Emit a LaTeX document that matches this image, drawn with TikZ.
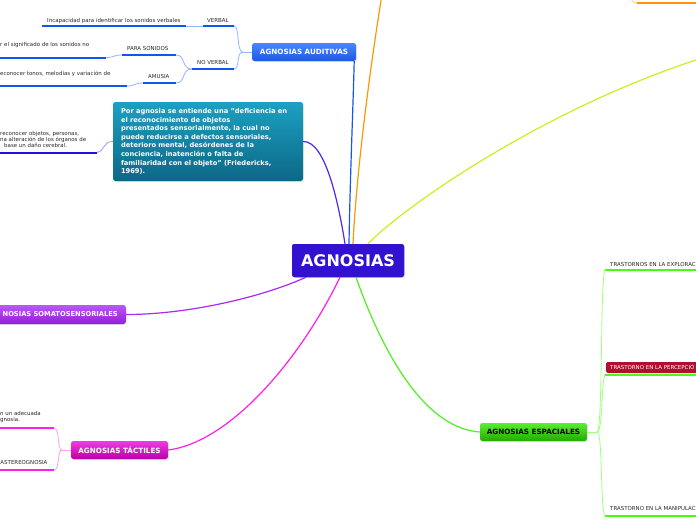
\documentclass[tikz,border=0pt]{standalone}
\usepackage{fontspec}
\setmainfont{DejaVu Sans}
\usetikzlibrary{shadows}
\definecolor{cent}{RGB}{50,18,208}
\definecolor{audT}{RGB}{74,136,248}
\definecolor{audB}{RGB}{28,88,232}
\definecolor{audL}{RGB}{18,86,240}
\definecolor{audThin}{RGB}{150,180,255}
\definecolor{defT}{RGB}{28,160,194}
\definecolor{defB}{RGB}{12,104,134}
\definecolor{defL}{RGB}{80,40,235}
\definecolor{defU}{RGB}{34,17,221}
\definecolor{defThin}{RGB}{160,150,255}
\definecolor{somT}{RGB}{184,88,246}
\definecolor{somB}{RGB}{148,30,216}
\definecolor{somL}{RGB}{170,40,240}
\definecolor{tacT}{RGB}{240,60,222}
\definecolor{tacB}{RGB}{186,0,170}
\definecolor{tacL}{RGB}{255,30,235}
\definecolor{tacThin}{RGB}{255,160,240}
\definecolor{espT}{RGB}{90,238,50}
\definecolor{espB}{RGB}{34,170,0}
\definecolor{espL}{RGB}{80,240,30}
\definecolor{espU}{RGB}{70,255,20}
\definecolor{espThin}{RGB}{160,255,130}
\definecolor{ylw}{RGB}{204,240,30}
\definecolor{org}{RGB}{255,152,0}
\definecolor{orgThin}{RGB}{255,205,140}
\definecolor{redbox}{RGB}{178,14,48}
\definecolor{txt}{RGB}{40,40,40}
\tikzset{
  topic/.style={rounded corners=2.5pt, inner sep=0pt, minimum height=18pt, text=white,
    font=\fontsize{7.2}{8.6}\selectfont\bfseries,
    drop shadow={shadow xshift=0.7pt,shadow yshift=-0.9pt,opacity=0.22}},
  small/.style={font=\fontsize{5.45}{6.3}\selectfont, text=txt, inner sep=0pt, anchor=base west, align=left},
  thickU/.style={line width=2pt},
  thin/.style={line width=0.8pt},
  conn/.style={line width=1.2pt}
}
\begin{document}
\begin{tikzpicture}[x=1pt,y=-1pt]
\useasboundingbox (0,0) rectangle (696,520);
\clip (0,0) rectangle (696,520);
\fill[white] (0,0) rectangle (696,520);

% ---------- main nodes ----------
\node[topic, fill=cent, minimum width=112pt, minimum height=33pt,
      font=\fontsize{16}{18}\selectfont\bfseries] (c) at (348,260.5) {AGNOSIAS};
\node[topic, top color=audT, bottom color=audB, minimum width=104pt] (aud) at (304,52) {AGNOSIAS AUDITIVAS};
\node[rounded corners=2.5pt, top color=defT, bottom color=defB, minimum height=79pt,
      inner xsep=8pt, inner ysep=0pt, text width=174pt, text=white, align=left,
      font=\fontsize{6.7}{8.6}\selectfont\bfseries,
      drop shadow={shadow xshift=0.7pt,shadow yshift=-0.9pt,opacity=0.22}] (def) at (208,141.5)
  {Por agnosia se entiende una "deficiencia en\\el reconocimiento de objetos\\presentados sensorialmente, la cual no\\puede reducirse a defectos sensoriales,\\deterioro mental, desórdenes de la\\conciencia, inatención o falta de\\familiaridad con el objeto" (Friedericks,\\1969).};
\node[topic, top color=somT, bottom color=somB, minimum height=19pt, inner xsep=8pt, anchor=east,
      font=\fontsize{6.7}{8}\selectfont\bfseries] (som) at (126,314.5) {NOSIAS SOMATOSENSORIALES};
\node[topic, top color=tacT, bottom color=tacB, minimum width=97pt] (tac) at (119.5,450) {AGNOSIAS TÁCTILES};
\node[topic, top color=espT, bottom color=espB, minimum width=107pt, text=black] (esp) at (533.5,432) {AGNOSIAS ESPACIALES};

% ---------- connectors from the centre ----------
\coordinate (orgEnd) at (383,-12);
\coordinate (ylwEnd) at (702,58);
\draw[conn, org] ([xshift=5pt]c.north) .. controls (356,180) and (368,80) .. (orgEnd);
\draw[conn, audL] ([xshift=1pt]c.north) .. controls (350,180) and (353,110) .. ([xshift=-2pt]aud.south east);
\draw[conn, defL] ([xshift=-3pt]c.north) .. controls (338,200) and (325,141) .. (def.east);
\draw[conn, ylw] ([xshift=20pt]c.north) .. controls (400,210) and (540,110) .. (ylwEnd);
\draw[conn, somL] ([xshift=-42pt]c.south) .. controls (265,296) and (190,314.5) .. (som.east);
\draw[conn, tacL] ([xshift=-8pt]c.south) .. controls (300,360) and (230,442) .. (tac.east);
\draw[conn, espL] ([xshift=8pt]c.south) .. controls (378,340) and (420,428) .. (esp.west);
\node[topic, fill=cent, minimum width=112pt, minimum height=33pt, drop shadow={opacity=0},
      font=\fontsize{16}{18}\selectfont\bfseries] at (348,260.5) {AGNOSIAS};

% orange branch at top right
\coordinate (orgA) at (631,-1);
\coordinate (orgB) at (637,3);
\coordinate (orgC) at (700,3);
\draw[thin, orgThin] (orgA) .. controls (633,2) and (634,3) .. (orgB);
\draw[thickU, org] (orgB) -- (orgC);

% ---------- auditivas ----------
\coordinate (audJ) at (243,52);
\coordinate (verbL) at (203,26);   \coordinate (verbR) at (234,26);
\coordinate (incL) at (42,26);     \coordinate (incR) at (186,26);
\coordinate (nvL) at (192,69);     \coordinate (nvR) at (234,69);
\coordinate (psL) at (122,55);     \coordinate (psR) at (176,55);
\coordinate (amL) at (143,83);     \coordinate (amR) at (176,83);
\coordinate (psCL) at (-5,57.5);   \coordinate (psCR) at (106,57.5);
\coordinate (amCL) at (-5,86);     \coordinate (amCR) at (127,86);

\draw[thin, audThin] (aud.west) -- (audJ);
\draw[thin, audThin] (audJ) .. controls (236,52) and (240,26) .. (verbR);
\draw[thin, audThin] (audJ) .. controls (236,52) and (240,69) .. (nvR);
\draw[thin, audThin] (verbL) -- (incR);
\draw[thin, audThin] (nvL) .. controls (181,69) and (186,55) .. (psR);
\draw[thin, audThin] (nvL) .. controls (181,69) and (186,83) .. (amR);
\draw[thin, audThin] (psL) .. controls (113,55) and (114,57.5) .. (psCR);
\draw[thin, audThin] (amL) .. controls (134,83) and (135,86) .. (amCR);

\draw[thickU, audL] (verbL) -- (verbR);
\draw[thickU, audL] (incL) -- (incR);
\draw[thickU, audL] (nvL) -- (nvR);
\draw[thickU, audL] (psL) -- (psR);
\draw[thickU, audL] (amL) -- (amR);
\draw[thickU, audL] (psCL) -- (psCR);
\draw[thickU, audL] (amCL) -- (amCR);

\node[small] (tverb) at (207,22) {VERBAL};
\node[small] (tinc) at (47,22) {Incapacidad para identificar los sonidos verbales};
\node[small] (tnv) at (197,64) {NO VERBAL};
\node[small] (tps) at (127,50) {PARA SONIDOS};
\node[small] (tam) at (148,78) {AMUSIA};
\node[small] (tpsc) at (0,46.5) {r el significado de los sonidos no};
\node[small] (tamc) at (0,75) {econocer tonos, melodías y variación de};

% ---------- definition left child ----------
\coordinate (dcL) at (-5,152.5);
\coordinate (dcR) at (97,152.5);
\draw[thin, defThin] (def.west) .. controls (103,141) and (104,152.5) .. (dcR);
\draw[thickU, defU] (dcL) -- (dcR);
\node[small] (d1) at (0,135.5) {reconocer objetos, personas,};
\node[small] (d2) at (0,141.5) {na alteración de los órganos de};
\node[small] (d3) at (4,147.5) {base un daño cerebral.};

% ---------- táctiles ----------
\coordinate (tacJ) at (62,450);
\coordinate (tuL) at (-5,428);  \coordinate (tuR) at (54,428);
\coordinate (tdL) at (-5,470);  \coordinate (tdR) at (54,470);
\draw[thin, tacThin] (tac.west) -- (tacJ);
\draw[thin, tacThin] (tacJ) .. controls (57,450) and (60,428) .. (tuR);
\draw[thin, tacThin] (tacJ) .. controls (57,450) and (60,470) .. (tdR);
\draw[thickU, tacL] (tuL) -- (tuR);
\draw[thickU, tacL] (tdL) -- (tdR);
\node[small] (tt1) at (0,415.5) {n un adecuada};
\node[small] (tt2) at (0,421.8) {gnosia.};
\node[small] (tt3) at (0.3,464.5) {ASTEREOGNOSIA};

% ---------- espaciales ----------
\coordinate (espJ) at (597,432);
\coordinate (e1L) at (605,270); \coordinate (e1R) at (700,270);
\coordinate (e2L) at (605,375); \coordinate (e2R) at (700,375);
\coordinate (e3L) at (605,516); \coordinate (e3R) at (700,516);
\draw[thin, espThin] (esp.east) -- (espJ);
\draw[thin, espThin] (espJ) .. controls (603,432) and (600,278) .. (e1L);
\draw[thin, espThin] (espJ) .. controls (603,432) and (601,382) .. (e2L);
\draw[thin, espThin] (espJ) .. controls (603,432) and (600,508) .. (e3L);
\node[rounded corners=1.5pt, fill=redbox, text=white, anchor=west, minimum height=11pt,
      inner xsep=4pt, inner ysep=0pt, text width=92pt, align=left,
      font=\fontsize{5.45}{6.3}\selectfont] (red) at (606,367.5) {TRASTORNO EN LA PERCEPCIÓ};
\draw[thickU, espU] (e1L) -- (e1R);
\draw[thickU, espU] (e2L) -- (e2R);
\draw[thickU, espU] (e3L) -- (e3R);
\node[small] (s1) at (610,266) {TRASTORNOS EN LA EXPLORAC};
\node[small] (s3) at (610,510.7) {TRASTORNO EN LA MANIPULAC};
\end{tikzpicture}
\end{document}
